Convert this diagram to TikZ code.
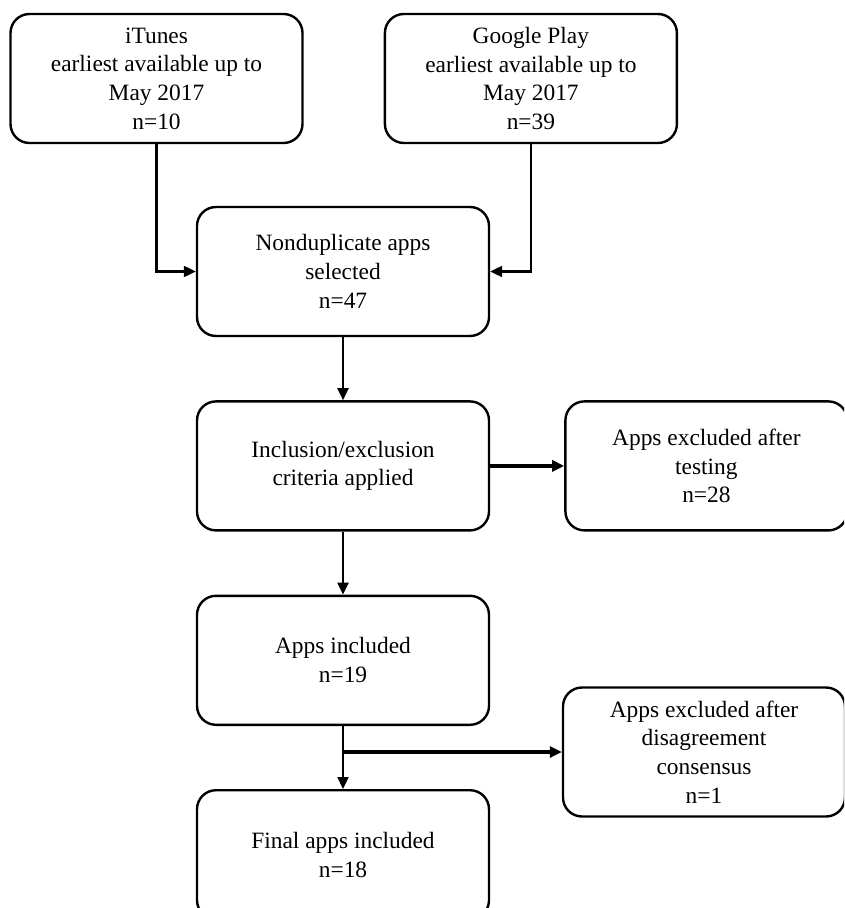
\documentclass[tikz,border=0pt]{standalone}
\usepackage{fontspec}
\setmainfont{Liberation Serif}
\usetikzlibrary{arrows.meta, positioning}

\begin{document}
\begin{tikzpicture}[
        x=0.5pt, y=-0.5pt,
        block/.style={
            rectangle,
            draw,
            line width=1.2pt,
            rounded corners=9.5pt,
            minimum width=146pt,
            minimum height=64.5pt,
            inner sep=2pt,
            text centered,
            align=center,
            font=\fontsize{11.7}{14.35}\selectfont
        },
        sidebox/.style={block, minimum width=141pt},
        line/.style={draw, -{Triangle[length=6pt, width=5.5pt]}, line width=1.1pt},
        boldline/.style={line, line width=1.6pt}
    ]
        \clip (0,0) rectangle (844,908);

        % nodes
        \node [block] (itunes) at (156.5,78.5) {iTunes\\earliest available up to\\May 2017\\n=10};
        \node [block, right=40pt of itunes] (gplay) {Google Play\\earliest available up to\\May 2017\\n=39};
        \node [block] (nondup) at (343,271.5) {Nonduplicate apps\\selected\\n=47};
        \node [block, below=31.5pt of nondup] (criteria) {Inclusion/exclusion\\criteria applied};
        \node [sidebox, right=37pt of criteria] (testing) {Apps excluded after\\testing\\n=28};
        \node [block, below=31.5pt of criteria] (included) {Apps included\\n=19};
        \node [block, below=31.5pt of included] (final) {Final apps included\\n=18};
        \node [sidebox] (consensus) at (704,752) {Apps excluded after\\disagreement\\consensus\\n=1};
        \coordinate (split) at (included.south |- consensus.west);

        % paths
        \path [line] (itunes.south) |- (nondup.west);
        \path [line] (gplay.south) |- (nondup.east);
        \path [line] (nondup) -- (criteria);
        \path [boldline] (criteria) -- (testing);
        \path [line] (criteria) -- (included);
        \path [line] (included) -- (final);
        \path [boldline] (split) -- (consensus.west);

    \end{tikzpicture}
\end{document}
